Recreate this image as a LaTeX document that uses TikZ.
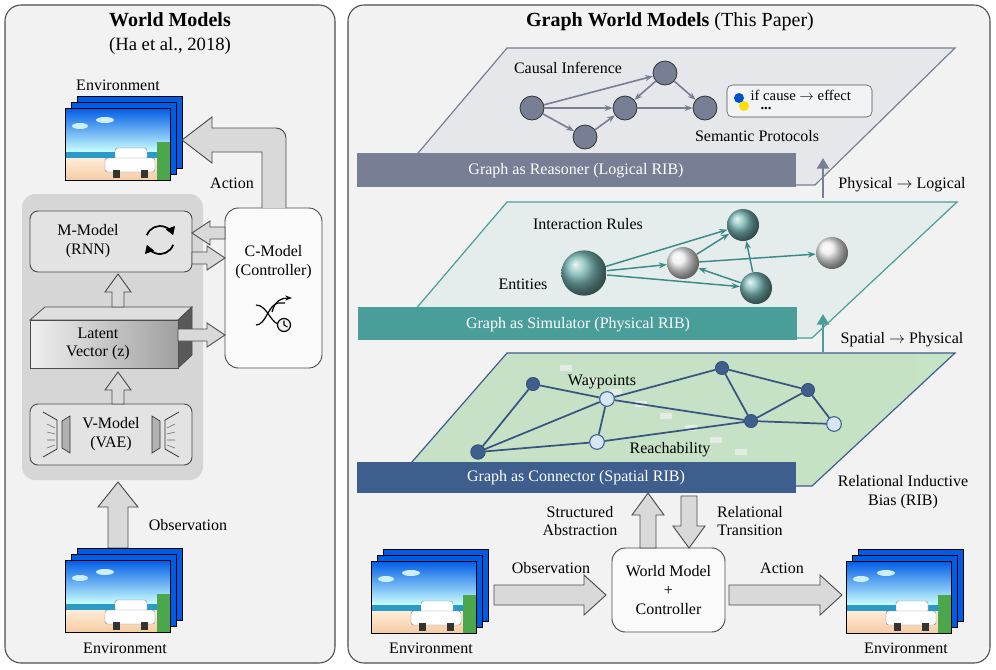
\documentclass[tikz,border=0pt]{standalone}
\usepackage{fontspec}
\setmainfont{Liberation Serif}
\usetikzlibrary{arrows.meta,shapes.geometric}
\definecolor{panel}{HTML}{F2F2F2}
\definecolor{reas}{HTML}{787F94}
\definecolor{reasplane}{HTML}{E6E7EB}
\definecolor{sim}{HTML}{4A9E9A}
\definecolor{simedge}{HTML}{3A8A86}
\definecolor{simplane}{HTML}{E4ECEC}
\definecolor{con}{HTML}{3E5E8E}
\definecolor{conlight}{HTML}{D6E6F2}
\definecolor{arrfill}{HTML}{D9D9D9}
\newcommand\arrR[6]{\draw[harr] ({#1},{#3-#4})--({#2-#6},{#3-#4})--({#2-#6},{#3-#5})--({#2},{#3})--({#2-#6},{#3+#5})--({#2-#6},{#3+#4})--({#1},{#3+#4})--cycle;}
\newcommand\arrL[6]{\draw[harr] ({#1},{#3-#4})--({#2+#6},{#3-#4})--({#2+#6},{#3-#5})--({#2},{#3})--({#2+#6},{#3+#5})--({#2+#6},{#3+#4})--({#1},{#3+#4})--cycle;}
\newcommand\arrU[6]{\draw[harr] ({#1-#4},{#2})--({#1-#4},{#3+#6})--({#1-#5},{#3+#6})--({#1},{#3})--({#1+#5},{#3+#6})--({#1+#4},{#3+#6})--({#1+#4},{#2})--cycle;}
\newcommand\arrD[6]{\draw[harr] ({#1-#4},{#2})--({#1-#4},{#3-#6})--({#1-#5},{#3-#6})--({#1},{#3})--({#1+#5},{#3-#6})--({#1+#4},{#3-#6})--({#1+#4},{#2})--cycle;}
\newcommand\envimg[2]{%
  \shade[top color=blue!60!cyan!90!black, bottom color=cyan!20] (#1,#2) rectangle ({#1+105},{#2+44});
  \fill[white!80!cyan] ({#1+15},{#2+18}) ellipse (8 and 3);
  \fill[white!80!cyan] ({#1+40},{#2+12}) ellipse (9 and 3);
  \fill[cyan!60!teal] (#1,{#2+44}) rectangle ({#1+105},{#2+50});
  \shade[top color=orange!15, bottom color=brown!40!orange!40] (#1,{#2+50}) rectangle ({#1+105},{#2+72});
  \fill[green!50!black!70] ({#1+92},{#2+34}) rectangle ({#1+105},{#2+72});
  \fill[white,draw=gray,line width=0.3pt,rounded corners=2] ({#1+50},{#2+40}) rectangle ({#1+82},{#2+52});
  \fill[white,draw=gray,line width=0.3pt,rounded corners=2] ({#1+40},{#2+50}) rectangle ({#1+90},{#2+64});
  \fill[black!80] ({#1+48},{#2+62}) rectangle ({#1+55},{#2+70});
  \fill[black!80] ({#1+76},{#2+62}) rectangle ({#1+83},{#2+70});
  \draw[black,line width=0.6pt] (#1,#2) rectangle ({#1+105},{#2+72});}
\newcommand\envstack[2]{%
  \fill[blue!60!cyan!90!black,draw=black,line width=0.6pt] ({#1+12},{#2-12}) rectangle ({#1+117},{#2+60});
  \fill[blue!60!cyan!90!black,draw=black,line width=0.6pt] ({#1+6},{#2-6}) rectangle ({#1+111},{#2+66});
  \envimg{#1}{#2}}
\begin{document}
\begin{tikzpicture}[x=0.75pt,y=-0.75pt,
  every node/.style={font=\fontsize{12}{14}\selectfont, align=center},
  harr/.style={draw=black!70, fill=arrfill, line width=0.7pt, line join=miter},
  box/.style={draw=black!70, fill=gray!22, rounded corners=6, line width=0.7pt},
  cn/.style={circle, draw=black!80, fill=reas, minimum size=18pt, inner sep=0, line width=0.6pt},
  ce/.style={draw=reas, line width=1.2pt, -{Stealth[length=6pt]}},
  tb/.style={circle, shade, ball color=sim!75!white, minimum size=24pt, inner sep=0},
  gb/.style={circle, shade, ball color=gray!15, minimum size=24pt, inner sep=0},
  te/.style={draw=simedge, line width=1.1pt, -{Stealth[length=6pt]}},
  dn/.style={circle, draw=con!70!black, fill=con, minimum size=10pt, inner sep=0},
  ln/.style={circle, draw=con, fill=conlight, minimum size=11pt, inner sep=0, line width=0.8pt},
  se/.style={draw=con!90!black, line width=1.3pt}]
\useasboundingbox (0,0) rectangle (996,669);
% ---------- left panel
\draw[fill=panel, draw=black!70, rounded corners=12, line width=0.8pt] (5,5) rectangle (335,663);
\node[font=\fontsize{15}{17}\selectfont\bfseries] (lt) at (170,20) {World Models};
\node[font=\fontsize{14}{16}\selectfont] (lt2) at (170,46) {(Ha et al., 2018)};
\node (envtl) at (118,85) {Environment};
\envstack{65}{108}
\fill[gray!32, rounded corners=10] (22,194) rectangle (203,480);
\node[box, minimum width=121.5pt, minimum height=45.75pt] (mm) at (111,241.5) {};
\node (mmt) at (88,241) {M-Model\\(RNN)};
\draw[line width=1.3pt,-{Triangle[length=6pt,width=7pt]}] (160,240) ++(20:14) arc (20:160:14);
\draw[line width=1.3pt,-{Triangle[length=6pt,width=7pt]}] (160,240) ++(200:14) arc (200:340:14);
% latent 3D
\fill[gray!25, draw=black!70, line width=0.6pt] (30,320)--(45,307)--(192,307)--(178,320)--cycle;
\fill[gray!70!black, draw=black!70, line width=0.6pt] (178,320)--(192,307)--(192,355)--(178,368)--cycle;
\shade[left color=gray!12, right color=gray!75] (30,320) rectangle (178,368);
\draw[black!70, line width=0.6pt] (30,320) rectangle (178,368);
\node (lat) at (98,344) {Latent\\Vector (z)};
\node[box, minimum width=121.5pt, minimum height=45.75pt] (vm) at (111,434.5) {};
\node (vmt) at (111,434) {V-Model\\(VAE)};
\fill[gray!60,draw=black!80,line width=0.5pt] (62,421)--(70,416)--(70,453)--(62,448)--cycle;
\draw[black!80,line width=0.6pt] (43,412)--(57,420)--(57,449)--(43,457);
\draw[black!60,line width=0.4pt] (47,424)--(55,428) (47,432)--(55,434) (47,440)--(55,440) (47,448)--(55,445);
\fill[gray!60,draw=black!80,line width=0.5pt] (160,421)--(152,416)--(152,453)--(160,448)--cycle;
\draw[black!80,line width=0.6pt] (179,412)--(165,420)--(165,449)--(179,457);
\draw[black!60,line width=0.4pt] (175,424)--(167,428) (175,432)--(167,434) (175,440)--(167,440) (175,448)--(167,445);
\node[box, fill=white!60!panel, minimum width=72.75pt, minimum height=120pt, rounded corners=10] (cm) at (273.5,288) {};
\node (cmt) at (273.5,262) {C-Model\\(Controller)};
\draw[line width=0.9pt] (256,305) .. controls (268,305) and (270,325) .. (282,325);
\draw[line width=0.9pt] (256,325) .. controls (266,325) and (268,305) .. (278,303) -- (285,303);
\draw[line width=0.9pt,-{Stealth[length=5pt]}] (272,312) .. controls (275,300) and (282,298) .. (292,298);
\draw[line width=0.9pt, fill=panel] (284,325) circle (6.5);
\draw[line width=0.8pt] (284,320.5)--(284,325)--(287.5,327);
% left arrows
\arrL{225}{192}{233}{6}{12}{18}
\arrR{192}{225}{258}{6}{12}{18}
\arrR{178}{225}{335}{6}{12}{18}
\arrU{118}{404}{372}{6}{13}{18}
\arrU{118}{307}{274}{6}{13}{18}
\draw[harr] (262,208)--(262,152)--(212,152)--(212,163)--(182,140)--(212,117)--(212,128)--(276,128) arc (-90:0:10) --(286,208);
\node (act1) at (232,183) {Action};
\arrU{118}{548}{482}{10}{20}{25}
\node (obs1) at (188,525) {Observation};
\envstack{65}{560}
\node (envbl) at (125,648) {Environment};
% ---------- right panel
\draw[fill=panel, draw=black!70, rounded corners=12, line width=0.8pt] (348,5) rectangle (990,663);
\node[font=\fontsize{15}{17}\selectfont] (rt) at (670,22) {\textbf{Graph World Models} (This Paper)};
% top plane
\draw[fill=reasplane, draw=reas, line width=0.9pt] (391,185)--(507,48)--(955,48)--(815,185)--cycle;
\fill[reas] (357,153) rectangle (796,187);
\node[text=white] (rb) at (576,171) {Graph as Reasoner (Logical RIB)};
\node (ci) at (568,68) {Causal Inference};
\node[cn] (a) at (532,108) {};
\node[cn] (b) at (665,73) {};
\node[cn] (c) at (625,108) {};
\node[cn] (d) at (705,108) {};
\node[cn] (e) at (585,137) {};
\draw[ce] (a)--(b); \draw[ce] (a)--(c); \draw[ce] (a)--(e); \draw[ce] (e)--(c);
\draw[ce] (b)--(c); \draw[ce] (b)--(d); \draw[ce] (c)--(d);
\node[draw=black!70, fill=white!50!reasplane, rounded corners=4, minimum width=108.75pt, minimum height=24pt] (code) at (799.5,101) {};
\fill[blue!60!cyan!80!black] (739,98) circle (5);
\fill[yellow!80!orange] (744,106) circle (5);
\node[anchor=west, font=\fontsize{11}{12}\selectfont, inner sep=1pt] (ct) at (749,95) {if cause $\rightarrow$ effect};
\node[font=\fontsize{11}{12}\selectfont\bfseries, inner sep=0pt] (dots) at (766,109) {...};
\node (sp) at (757,136) {Semantic Protocols};
% middle plane
\draw[fill=simplane, draw=sim, line width=0.9pt] (391,338)--(507,202)--(957,202)--(812,338)--cycle;
\fill[sim] (358,307) rectangle (797,340);
\node[text=white] (sb) at (578,325) {Graph as Simulator (Physical RIB)};
\node (ir) at (588,224) {Interaction Rules};
\node (ent) at (523,284) {Entities};
\node[tb, minimum size=34pt] (e1) at (584,273) {};
\node[gb] (g1) at (683,263) {};
\node[tb] (t1) at (743,225) {};
\node[gb] (g2) at (832,253) {};
\node[tb] (t2) at (756,288) {};
\draw[te] (e1)--(t1); \draw[te] (e1)--(g1); \draw[te] (e1)--(t2); \draw[te] (g1)--(t1);
\draw[te] (t2)--(g1); \draw[te] (t2)--(t1); \draw[te] (g1)--(g2);
% inter-layer arrows
\coordinate (pl0) at (823,198); \coordinate (pl1) at (823,158);
\draw[reas, line width=2pt, -{Triangle[length=8pt,width=9pt]}] (pl0)--(pl1);
\node (pl) at (902,185) {Physical $\rightarrow$ Logical};
\coordinate (sp0) at (823,352); \coordinate (sp1) at (823,314);
\draw[sim, line width=2pt, -{Triangle[length=8pt,width=9pt]}] (sp0)--(sp1);
\node (spl) at (902,340) {Spatial $\rightarrow$ Physical};
% bottom plane
\shade[left color=green!30!gray!45, middle color=gray!30, right color=green!35!gray!45] (391,486)--(507,353)--(955,353)--(812,486)--cycle;
\fill[white, opacity=0.25] (391,486)--(507,353)--(955,353)--(812,486)--cycle;
\foreach \i in {0,...,7} {\fill[gray!10, opacity=0.7] ({560+\i*25},{365+\i*12}) rectangle ++(12,6);}
\draw[draw=con, line width=0.9pt] (391,486)--(507,353)--(955,353)--(812,486)--cycle;
\fill[con] (357,462) rectangle (796,493);
\node[text=white] (cb) at (576,478) {Graph as Connector (Spatial RIB)};
\node[dn] (n1) at (533,384) {};
\node[ln] (n2) at (607,399) {};
\node[dn] (n3) at (722,368) {};
\node[dn] (n4) at (808,390) {};
\node[dn] (n5) at (751,421) {};
\node[ln] (n6) at (834,424) {};
\node[ln] (n7) at (597,442) {};
\node[dn, minimum size=11pt] (n8) at (478,452) {};
\draw[se] (n1)--(n8); \draw[se] (n1)--(n2); \draw[se] (n2)--(n3); \draw[se] (n2)--(n5);
\draw[se] (n2)--(n8); \draw[se] (n2)--(n7); \draw[se] (n3)--(n5); \draw[se] (n3)--(n4);
\draw[se] (n5)--(n4); \draw[se] (n4)--(n6); \draw[se] (n5)--(n6); \draw[se] (n7)--(n8); \draw[se] (n7)--(n5);
\node (wp) at (602,382) {Waypoints};
\node (rc) at (670,450) {Reachability};
\node (rib) at (903,492) {Relational Inductive\\Bias (RIB)};
% bottom flow
\node[box, fill=white!60!panel, minimum width=84.75pt, minimum height=63pt, rounded corners=10] (wm) at (668.5,590) {World Model\\+\\Controller};
\arrU{648}{548}{493}{8}{16}{22}
\arrD{689}{496}{548}{8}{16}{22}
\node (sa) at (580,521) {Structured\\Abstraction};
\node (rt2) at (750,521) {Relational\\Transition};
\envstack{371}{561}
\node (envbr1) at (431,648) {Environment};
\arrR{494}{606}{595}{10}{20}{22}
\node (obs2) at (551,568) {Observation};
\arrR{729}{842}{595}{10}{20}{22}
\node (act2) at (782,568) {Action};
\envstack{846}{561}
\node (envbr2) at (906,648) {Environment};
\end{tikzpicture}
\end{document}
